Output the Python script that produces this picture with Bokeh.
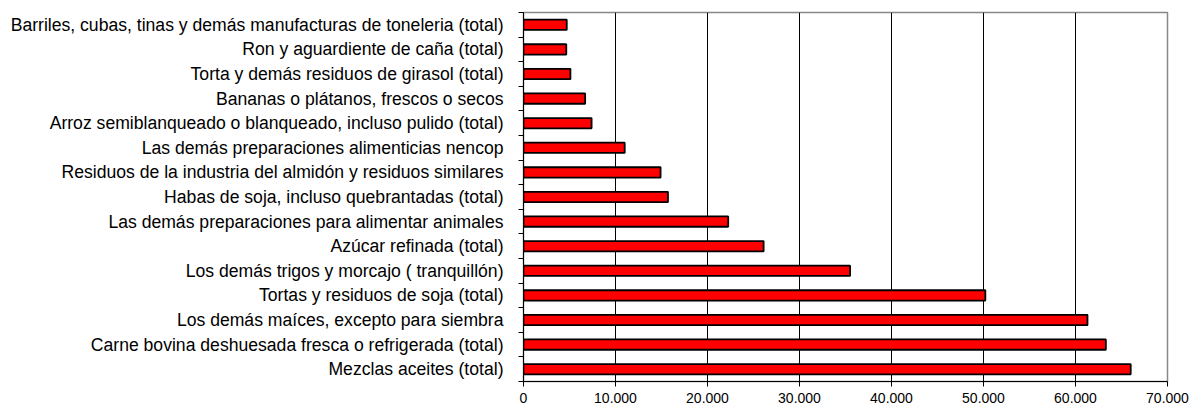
from bokeh.plotting import figure
from bokeh.models import ColumnDataSource, FixedTicker, Range1d
from bokeh.embed import file_html
from bokeh.resources import INLINE

# Data, top to bottom as in the chart
categories = [
    "Barriles, cubas, tinas y demás manufacturas de toneleria (total)",
    "Ron y aguardiente de caña (total)",
    "Torta y demás residuos de girasol (total)",
    "Bananas o plátanos, frescos o secos",
    "Arroz semiblanqueado o blanqueado, incluso pulido (total)",
    "Las demás preparaciones alimenticias nencop",
    "Residuos de la industria del almidón y residuos similares",
    "Habas de soja, incluso quebrantadas (total)",
    "Las demás preparaciones para alimentar animales",
    "Azúcar refinada (total)",
    "Los demás trigos y morcajo ( tranquillón)",
    "Tortas y residuos de soja (total)",
    "Los demás maíces, excepto para siembra",
    "Carne bovina deshuesada fresca o refrigerada (total)",
    "Mezclas aceites (total)",
]
values = [4700, 4650, 5100, 6700, 7400, 11000, 14900, 15700, 22250, 26100,
          35500, 50200, 61300, 63300, 66000]

x_ticks = [0, 10000, 20000, 30000, 40000, 50000, 60000, 70000]
x_tick_labels = ["0", "10.000", "20.000", "30.000", "40.000", "50.000", "60.000", "70.000"]

n = len(categories)
# bottom-to-top positions (category i from top sits at n-1-i)
ypos = [n - 1 - i + 0.5 for i in range(n)]

src = ColumnDataSource(dict(y=ypos, v=values, cat=categories))

p = figure(width=1190, height=408, output_backend="svg", toolbar_location=None,
           x_range=Range1d(0, 70000), y_range=Range1d(0, n),
           min_border_left=523, min_border_right=23, min_border_top=12,
           min_border_bottom=27)

p.hbar(y="y", right="v", left=0, height=0.42, source=src,
       fill_color="#FF0000", line_color="black", line_width=1.8)

# x axis
xa = p.xaxis[0]
xa.ticker = FixedTicker(ticks=x_ticks)
xa.major_label_overrides = {t: l for t, l in zip(x_ticks, x_tick_labels)}
xa.axis_line_color = "black"
xa.major_tick_line_color = "black"
xa.major_tick_out = 5
xa.major_tick_in = 0
xa.minor_tick_line_color = None
xa.major_label_text_font = "Liberation Sans"
xa.major_label_text_font_size = "14px"
xa.major_label_text_color = "black"
xa.major_label_standoff = 6

# y axis: labels at centers, tick marks at category boundaries
ya = p.yaxis[0]
ya.ticker = FixedTicker(ticks=ypos, minor_ticks=list(range(n + 1)))
ya.major_label_overrides = {y: c for y, c in zip(ypos, categories)}
ya.axis_line_color = "black"
ya.major_tick_line_color = None
ya.major_tick_out = 0
ya.major_tick_in = 0
ya.minor_tick_line_color = "black"
ya.minor_tick_out = 5
ya.minor_tick_in = 0
ya.major_label_text_font = "Liberation Sans"
ya.major_label_text_font_size = "17.6px"
ya.major_label_text_color = "black"
ya.major_label_standoff = 15

p.xgrid.grid_line_color = "black"
p.xgrid.grid_line_width = 1
p.ygrid.grid_line_color = None

p.outline_line_color = "#888888"
p.outline_line_width = 1.5
p.background_fill_color = "white"
p.border_fill_color = "white"

open("out.html", "w").write(file_html(p, INLINE))
